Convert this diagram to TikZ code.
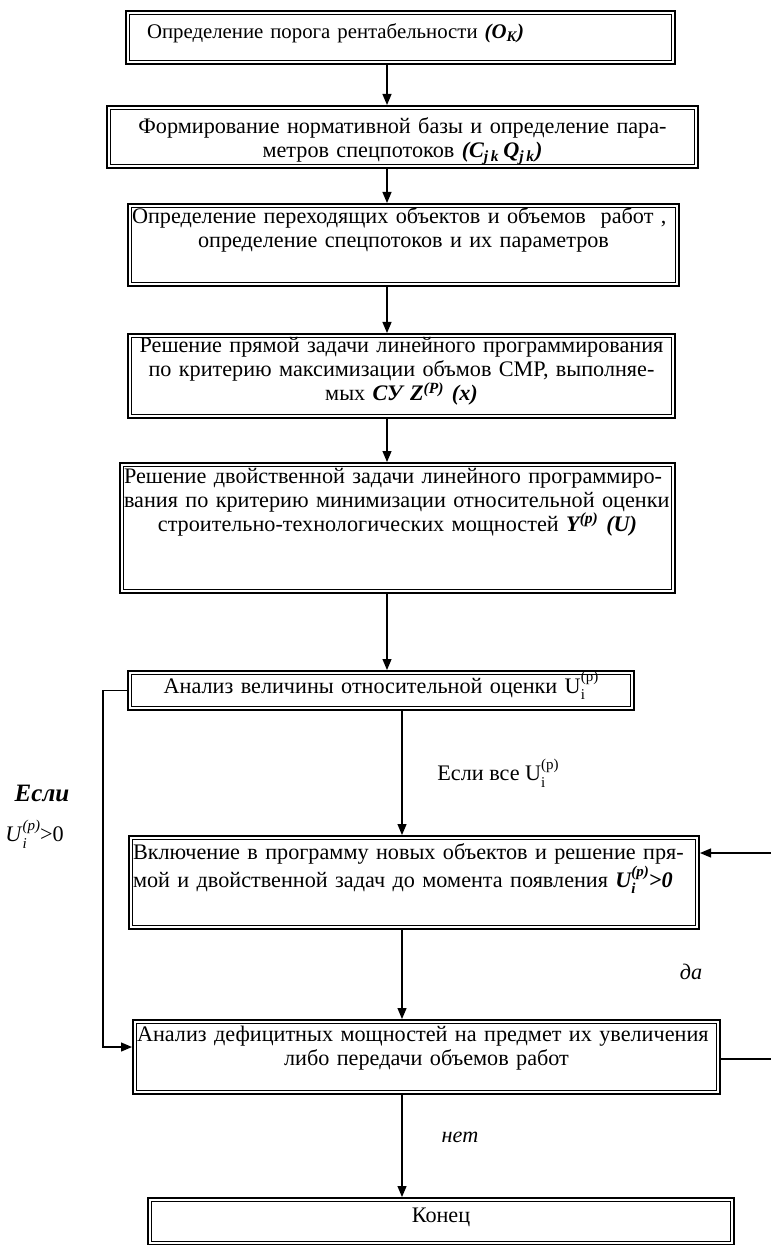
\documentclass[tikz,border=0pt]{standalone}
\usepackage{fontspec}
\setmainfont{Liberation Serif}
\usetikzlibrary{arrows.meta}
\newcommand\scr{\fontsize{7.5pt}{8pt}\selectfont}
\newcommand\supsub[2]{{\setbox0=\hbox{\raisebox{0.5em}{\scr #1}}\setbox2=\hbox{\raisebox{-0.3em}{\scr #2}}\ifdim\wd0>\wd2 \rlap{\box2}\box0 \else\rlap{\box0}\box2 \fi}}
\newcommand\cl[1]{\makebox[\linewidth]{#1}}
\newcommand\jl[1]{\makebox[\linewidth][s]{#1}}
\newcommand\mainfs{\fontsize{11.1pt}{12pt}\selectfont}
\tikzset{
  boxn/.style={draw, line width=1pt, anchor=north west, inner xsep=2pt, inner ysep=0pt, font=\mainfs, align=center},
  inline/.style={line width=0.5pt},
  arr/.style={line width=0.6pt, -{Triangle[length=5.5pt,width=4.5pt]}},
  lbl/.style={font=\mainfs, inner sep=0pt}
}
\begin{document}
\begin{tikzpicture}[x=0.5pt,y=-0.5pt]
\useasboundingbox (0,0) rectangle (770,1245);
\fill[white] (0,0) rectangle (770,1245);

\node[boxn, align=left, inner xsep=10.5pt, text width=253.5pt, text height=14pt, text depth=12.5pt,
      font=\fontsize{10.4pt}{12pt}\selectfont] (b1) at (125,10)
  {Определение порога рентабельности \textbf{\textit{(O\textsubscript{K})}}};
\node[boxn, inner xsep=3pt, text width=289.5pt, text height=14pt, text depth=17pt] (b2) at (106,105)
  {\cl{Формирование нормативной базы и определение пара-}\\
   \cl{метров спецпотоков \textbf{\textit{(C\textsubscript{j\,k}\,Q\textsubscript{j\,k})}}}};
\node[boxn, text width=271.5pt, text height=10pt, text depth=31pt] (b3) at (127,203)
  {\jl{Определение переходящих объектов и объемов\ \ работ ,}\\
   \cl{определение спецпотоков и их параметров}};
\node[boxn, text width=269.5pt, text height=9.5pt, text depth=32.5pt] (b4) at (127,333)
  {\cl{Решение прямой задачи линейного программирования}\\
   \cl{по критерию максимизации объмов СМР, выполняе-}\\
   \cl{мых \textbf{\textit{СУ Z\textsuperscript{(P)} (x)}}}};
\node[boxn, text width=273.5pt, text height=10pt, text depth=55pt] (b5) at (119,462)
  {\jl{Решение двойственной задачи линейного программиро-}\\
   \jl{вания по критерию минимизации относительной оценки}\\
   \cl{строительно-технологических мощностей \textbf{\textit{Y\textsuperscript{(p)} (U)}}}};
\node[boxn, text width=249pt, text height=11pt, text depth=8.5pt] (b6) at (127,670)
  {\cl{Анализ величины относительной оценки U\supsub{(p)}{i}}};
\node[boxn, text width=281pt, text height=11.5pt, text depth=35pt] (b7) at (128,835)
  {\jl{Включение в программу новых объектов и решение пря-}\\
   \jl{мой и двойственной задач до момента появления \textbf{\textit{U\supsub{(p)}{i}>0}}}};
\node[boxn, text width=289.5pt, text height=10.5pt, text depth=26.5pt] (b8) at (132,1019)
  {\jl{Анализ дефицитных мощностей на предмет их увеличения}\\
   \cl{либо передачи объемов работ}};
\node[boxn, text width=289pt, text height=12pt, text depth=11.5pt] (b9) at (147,1197)
  {\cl{Конец}};

\foreach \n in {b1,b2,b3,b4,b5,b6,b7,b8,b9}
  \draw[inline] ([shift={(2.2pt,-2.2pt)}]\n.north west) rectangle ([shift={(-2.2pt,2.2pt)}]\n.south east);

% labels
\node[lbl, anchor=west] (t1) at (437,773) {Если все U\supsub{(p)}{i}};
\node[lbl, font=\fontsize{12.5pt}{14pt}\selectfont] (t2) at (42,793) {\textbf{\textit{Если}}};
\node[lbl, anchor=west] (t3) at (5,834) {\textit{U}\supsub{\textit{(p)}}{\textit{i}}>0};
\node[lbl] (t4) at (691,972) {\textit{да}};
\node[lbl] (t5) at (460,1137) {\textit{нет}};

% connector coordinates
\coordinate (xa) at (387,0);
\coordinate (xb) at (402,0);
\coordinate (L) at (103,1047);
\coordinate (R1) at (771.5,1059);
\coordinate (R2) at (771.5,853);

\draw[arr] (xa |- b1.south) -- (xa |- b2.north);
\draw[arr] (xa |- b2.south) -- (xa |- b3.north);
\draw[arr] (xa |- b3.south) -- (xa |- b4.north);
\draw[arr] (xa |- b4.south) -- (xa |- b5.north);
\draw[arr] (xa |- b5.south) -- (xa |- b6.north);
\draw[arr] (xb |- b6.south) -- (xb |- b7.north);
\draw[arr] (xb |- b7.south) -- (xb |- b8.north);
\draw[arr] (xb |- b8.south) -- (xb |- b9.north);
\draw[arr] (b6.west) -| (L) -- (L -| b8.west);
\draw[arr] (R1 -| b8.east) -- (R1) -- (R2) -- (R2 -| b7.east);
\end{tikzpicture}
\end{document}
